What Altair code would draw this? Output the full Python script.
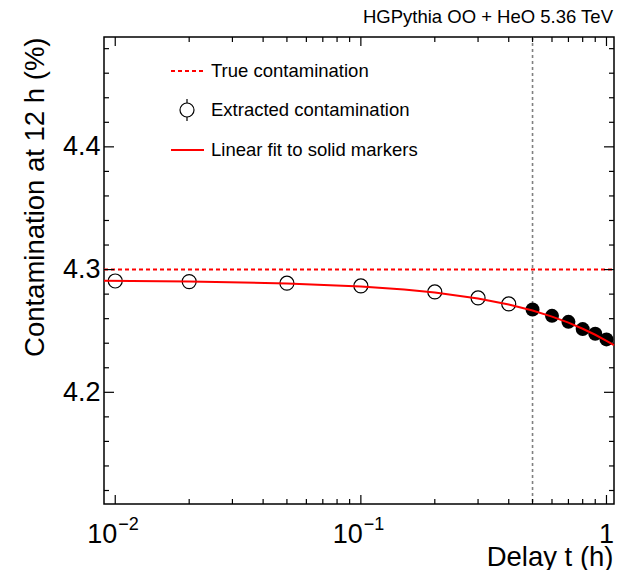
import altair as alt
import pandas as pd

# ---- data ----
t_open = [0.01, 0.02, 0.05, 0.1, 0.2, 0.3, 0.4]
c_open = [4.2907, 4.2902, 4.2889, 4.2867, 4.2818, 4.2769, 4.2720]
t_solid = [0.5, 0.6, 0.7, 0.8, 0.9, 1.0]
c_solid = [4.2675, 4.2623, 4.2574, 4.2515, 4.2477, 4.2431]

fit_t = [0.009, 0.02, 0.05, 0.1, 0.15, 0.2, 0.3, 0.4, 0.5, 0.6, 0.7, 0.8, 0.9, 1.0, 1.073]
fit_c = [4.2908, 4.2902, 4.2887, 4.2863, 4.2838, 4.2814, 4.2764, 4.2715, 4.2666,
         4.2617, 4.2568, 4.2518, 4.2469, 4.2420, 4.2384]

true_value = [4.30]
delay_cut = [0.5]

x_major = [0.01, 0.1, 1.0]
x_minor = [0.02, 0.03, 0.04, 0.05, 0.06, 0.07, 0.08, 0.09,
           0.2, 0.3, 0.4, 0.5, 0.6, 0.7, 0.8, 0.9]
y_major = [4.2, 4.3, 4.4]
y_minor = [4.12, 4.14, 4.16, 4.18, 4.22, 4.24, 4.26, 4.28,
           4.32, 4.34, 4.36, 4.38, 4.42, 4.44, 4.46, 4.48]

x_label_pos = [0.01, 0.1]
x_label_base = ["10", "10"]
x_label_exp = ["\u22122", "\u22121"]
x_label_one = [1.0]

legend_labels = ["True contamination", "Extracted contamination", "Linear fit to solid markers"]
top_text = ["HGPythia OO + HeO 5.36 TeV"]

# ---- layout ----
W, H = 510, 467
FONT = "Liberation Sans"
LBL = 27
TTL = 27.5
MSIZE = 196

xs = alt.Scale(type="log", domain=[0.009, 1.073], nice=False)
ys = alt.Scale(domain=[4.109, 4.4895], nice=False, zero=False)

X = lambda f="t": alt.X(f"{f}:Q", scale=xs)
Y = lambda f="c": alt.Y(f"{f}:Q", scale=ys)

open_df = pd.DataFrame({"t": t_open, "c": c_open})
solid_df = pd.DataFrame({"t": t_solid, "c": c_solid})
fit_df = pd.DataFrame({"t": fit_t, "c": fit_c})

base_axes = alt.Chart(open_df).mark_point(opacity=0).encode(
    x=alt.X("t:Q", scale=xs, axis=alt.Axis(
        title="Delay t (h)", labels=False, ticks=False, domain=False, grid=False,
        titleFontSize=TTL, titleFontWeight="normal", titleAnchor="end",
        titleAlign="right", titleBaseline="alphabetic", titleX=W - 1, titleY=61,
        titleColor="black")),
    y=alt.Y("c:Q", scale=ys, axis=alt.Axis(
        title="Contamination at 12 h (%)", values=y_major, format=".1f",
        labelFontSize=LBL, labelColor="black", labelPadding=4,
        ticks=False, domain=False, grid=False,
        titleFontSize=TTL, titleFontWeight="normal", titleAnchor="end",
        titleAlign="right", titleBaseline="alphabetic", titleAngle=-90,
        titleX=-61, titleY=0, titleColor="black")),
)

# ticks (inside, on all four sides)
def xticks(vals, L):
    df = pd.DataFrame({"t": vals})
    bot = alt.Chart(df).mark_rule(color="black", strokeWidth=1.2).encode(
        x=X(), y=alt.value(H), y2=alt.value(H - L))
    top = alt.Chart(df).mark_rule(color="black", strokeWidth=1.2).encode(
        x=X(), y=alt.value(0), y2=alt.value(L))
    return [bot, top]

def yticks(vals, L):
    df = pd.DataFrame({"c": vals})
    left = alt.Chart(df).mark_rule(color="black", strokeWidth=1.2).encode(
        y=Y(), x=alt.value(0), x2=alt.value(L))
    right = alt.Chart(df).mark_rule(color="black", strokeWidth=1.2).encode(
        y=Y(), x=alt.value(W - L), x2=alt.value(W))
    return [left, right]

tick_layers = xticks(x_major, 9) + xticks(x_minor, 5) + yticks(y_major, 10) + yticks(y_minor, 5)

# x tick labels with superscripts
lab_df = pd.DataFrame({"t": x_label_pos, "b": x_label_base, "e": x_label_exp})
lab_base = alt.Chart(lab_df).mark_text(
    align="right", baseline="alphabetic", fontSize=LBL, dx=2, color="black").encode(
    x=X(), y=alt.value(H + 39), text="b:N")
lab_exp = alt.Chart(lab_df).mark_text(
    align="left", baseline="alphabetic", fontSize=18, dx=3, color="black").encode(
    x=X(), y=alt.value(H + 26), text="e:N")
lab_one = alt.Chart(pd.DataFrame({"t": x_label_one, "b": ["1"]})).mark_text(
    align="center", baseline="alphabetic", fontSize=LBL, color="black").encode(
    x=X(), y=alt.value(H + 39), text="b:N")

# reference lines
true_line = alt.Chart(pd.DataFrame({"c": true_value})).mark_rule(
    color="#ff0000", strokeWidth=2, strokeDash=[4, 3]).encode(
    y=Y(), x=alt.value(0), x2=alt.value(W))
cut_line = alt.Chart(pd.DataFrame({"t": delay_cut})).mark_rule(
    color="#808080", strokeWidth=1.6, strokeDash=[3, 3]).encode(
    x=X(), y=alt.value(0), y2=alt.value(H))

# data
open_pts = alt.Chart(open_df).mark_point(
    shape="circle", size=MSIZE, filled=False, color="black", strokeWidth=1.2, opacity=1).encode(
    x=X(), y=Y())
solid_pts = alt.Chart(solid_df).mark_point(
    shape="circle", size=MSIZE, filled=True, color="black", opacity=1).encode(
    x=X(), y=Y())
fit_line = alt.Chart(fit_df).mark_line(color="#ff0000", strokeWidth=2).encode(
    x=X(), y=Y())

# legend
ROWS = [34, 73, 113]
leg_df = pd.DataFrame({"label": legend_labels, "row": ROWS})
leg_text = alt.Chart(leg_df).mark_text(
    align="left", baseline="middle", fontSize=18.5, color="black").encode(
    x=alt.value(107), y=alt.Y("row:Q", scale=None), text="label:N")
leg_true = alt.Chart(leg_df.iloc[[0]]).mark_rule(
    color="#ff0000", strokeWidth=2, strokeDash=[4, 3]).encode(
    x=alt.value(67), x2=alt.value(100), y=alt.Y("row:Q", scale=None))
leg_fit = alt.Chart(leg_df.iloc[[2]]).mark_rule(
    color="#ff0000", strokeWidth=2).encode(
    x=alt.value(67), x2=alt.value(100), y=alt.Y("row:Q", scale=None))
leg_err = alt.Chart(leg_df.iloc[[1]]).mark_rule(
    color="black", strokeWidth=1.2).encode(
    x=alt.value(83), y=alt.value(ROWS[1] - 11), y2=alt.value(ROWS[1] + 11))
leg_pt = alt.Chart(leg_df.iloc[[1]]).mark_point(
    shape="circle", size=MSIZE, filled=False, color="black", fill="white",
    fillOpacity=1, strokeWidth=1.2, opacity=1).encode(
    x=alt.value(83), y=alt.Y("row:Q", scale=None))

top_lbl = alt.Chart(pd.DataFrame({"s": top_text})).mark_text(
    align="right", baseline="alphabetic", fontSize=18.5, color="black").encode(
    x=alt.value(W - 1), y=alt.value(-14), text="s:N")

chart = alt.layer(
    base_axes, true_line, cut_line, *tick_layers,
    open_pts, solid_pts, fit_line,
    leg_true, leg_fit, leg_err, leg_pt, leg_text,
    lab_base, lab_exp, lab_one, top_lbl,
).properties(
    width=W, height=H,
    autosize=alt.AutoSizeParams(type="none"),
    padding={"left": 96, "top": 29, "right": 4, "bottom": 66},
).configure(font=FONT).configure_view(stroke="black", strokeWidth=1.5)

chart.save("out.html", embed_options={"renderer": "svg", "actions": False})
